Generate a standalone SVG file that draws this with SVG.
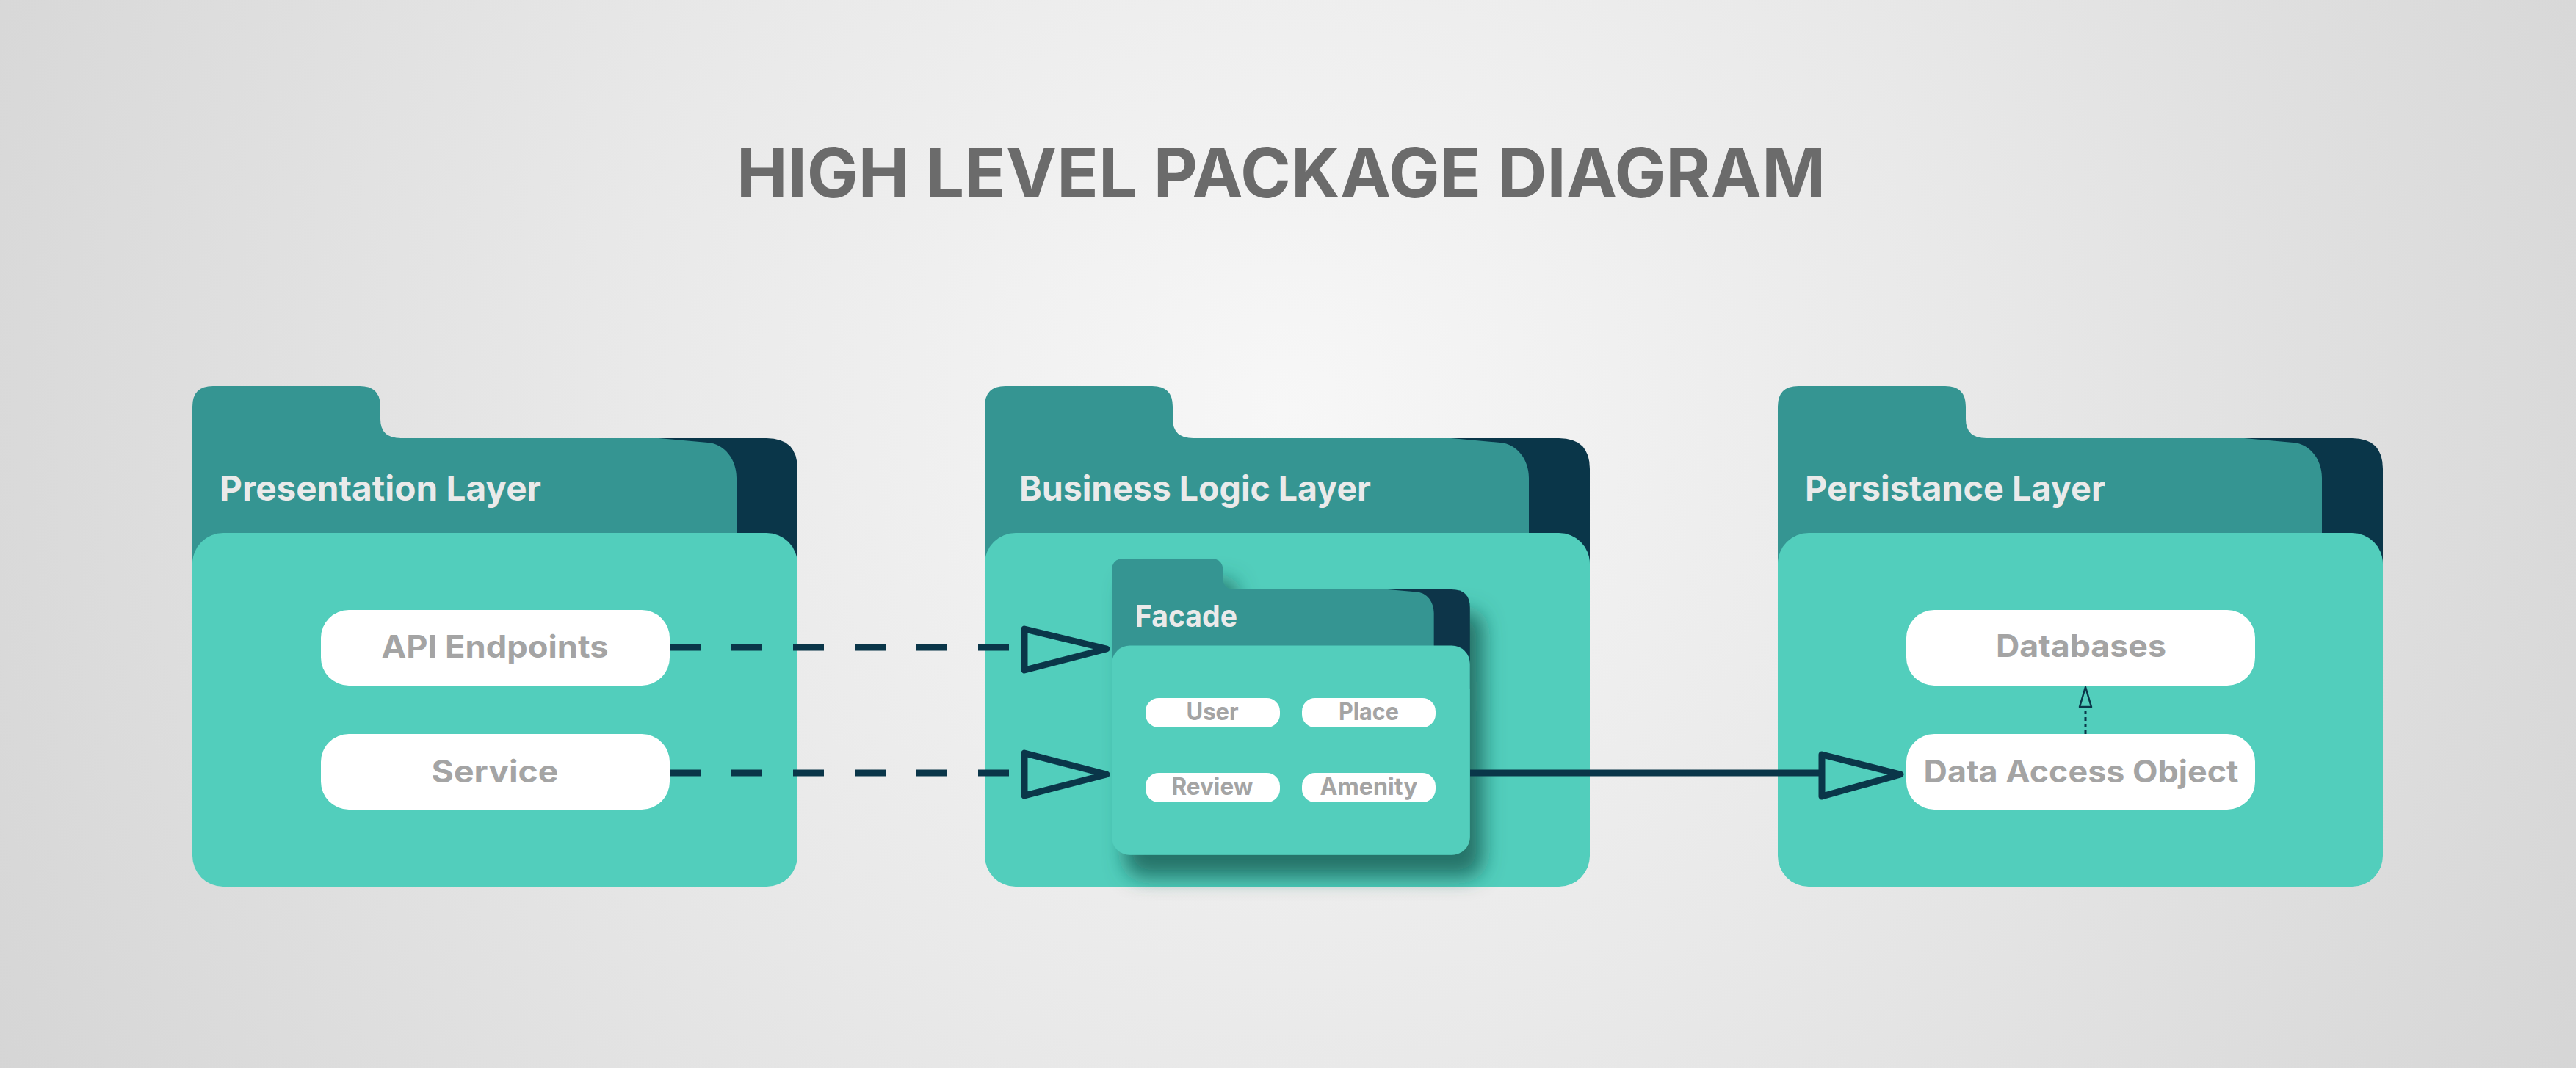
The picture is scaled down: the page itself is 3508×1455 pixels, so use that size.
<svg xmlns="http://www.w3.org/2000/svg" xmlns:xlink="http://www.w3.org/1999/xlink" width="3508" height="1455" viewBox="0 0 3508 1455">
  <defs>
    <radialGradient id="bg" gradientUnits="userSpaceOnUse" cx="1754" cy="560" r="2000">
      <stop offset="0" stop-color="#F7F7F7"/>
      <stop offset="0.45" stop-color="#E9E9E9"/>
      <stop offset="1" stop-color="#D5D5D5"/>
    </radialGradient>
    <filter id="facade-shadow" x="-20%" y="-20%" width="150%" height="160%">
      <feDropShadow dx="18" dy="30" stdDeviation="14" flood-color="#1A5C52" flood-opacity="0.8"/>
    </filter>
    <!-- package folder: tab + back sheet, dark spine, front sheet (824 x 682) -->
    <g id="folder">
      <path class="spine" d="M600,71 L782,71 Q824,71 824,113 L824,300 L600,300 Z"/>
      <path class="back" d="M0,28 Q0,0 28,0 L228,0 Q256,0 256,28 L256,45 Q256,71 284,71 L635,71 L702,77 C725,79 741,100 741,125 L741,300 L0,300 Z"/>
      <rect class="front" x="0" y="200" width="824" height="482" rx="42" ry="42"/>
    </g>
  </defs>
  <style>
    .spine { fill: #0A3649; }
    .back { fill: #359592; }
    .front { fill: #52CEBC; }
    .pill { fill: #FFFFFF; }
    .title { font-family: "Inter", "Liberation Sans", sans-serif; font-weight: 700; fill: #6B6B6B; }
    .layer-label { font-family: "Inter", "Liberation Sans", sans-serif; font-weight: 700; fill: #EAEAEA; font-size: 47px; }
    .item { font-family: "Inter", "Liberation Sans", sans-serif; font-weight: 700; fill: #A4A4A4; text-anchor: middle; }
    .item-lg { font-size: 42px; }
    .item-sm { font-size: 33px; }
    .dep { fill: none; stroke: #0A3649; stroke-width: 9; }
    .head { fill: none; stroke: #0A3649; stroke-width: 9; stroke-linejoin: round; }
  </style>

  <rect width="3508" height="1455" fill="url(#bg)"/>

  <text class="title" x="1003" y="269" font-size="94" textLength="1483" lengthAdjust="spacingAndGlyphs">HIGH LEVEL PACKAGE DIAGRAM</text>

  <!-- Presentation layer -->
  <g id="presentation-layer">
    <use xlink:href="#folder" transform="translate(262,526)"/>
    <text class="layer-label" x="299" y="682" textLength="438" lengthAdjust="spacingAndGlyphs">Presentation Layer</text>
    <g id="api-endpoints">
      <rect class="pill" x="437" y="831" width="475" height="103" rx="38"/>
      <text class="item item-lg" x="674" y="896" textLength="309" lengthAdjust="spacingAndGlyphs">API Endpoints</text>
    </g>
    <g id="service">
      <rect class="pill" x="437" y="1000" width="475" height="103" rx="38"/>
      <text class="item item-lg" x="674" y="1066" textLength="173" lengthAdjust="spacingAndGlyphs">Service</text>
    </g>
  </g>

  <!-- Business logic layer -->
  <g id="business-logic-layer">
    <use xlink:href="#folder" transform="translate(1341,526)"/>
    <text class="layer-label" x="1388" y="682" textLength="479" lengthAdjust="spacingAndGlyphs">Business Logic Layer</text>
  </g>

  <!-- Persistance layer -->
  <g id="persistance-layer">
    <use xlink:href="#folder" transform="translate(2421,526)"/>
    <text class="layer-label" x="2458" y="682" textLength="409" lengthAdjust="spacingAndGlyphs">Persistance Layer</text>
    <g id="databases">
      <rect class="pill" x="2596" y="831" width="475" height="103" rx="38"/>
      <text class="item item-lg" x="2834" y="895" textLength="232" lengthAdjust="spacingAndGlyphs">Databases</text>
    </g>
    <g id="data-access-object">
      <rect class="pill" x="2596" y="1000" width="475" height="103" rx="38"/>
      <text class="item item-lg" x="2834" y="1066" textLength="429" lengthAdjust="spacingAndGlyphs">Data Access Object</text>
    </g>
  </g>

  <!-- Facade package nested in the business logic layer -->
  <g id="facade">
    <g filter="url(#facade-shadow)">
      <use xlink:href="#folder" transform="translate(1514,761) scale(0.592)"/>
    </g>
    <text class="layer-label" x="1546" y="854" style="font-size:41px" textLength="139" lengthAdjust="spacingAndGlyphs">Facade</text>
    <g id="user">
      <rect class="pill" x="1560" y="951" width="183" height="40" rx="18"/>
      <text class="item item-sm" x="1651" y="981" textLength="71" lengthAdjust="spacingAndGlyphs">User</text>
    </g>
    <g id="place">
      <rect class="pill" x="1773" y="951" width="182" height="40" rx="18"/>
      <text class="item item-sm" x="1864" y="981" textLength="82" lengthAdjust="spacingAndGlyphs">Place</text>
    </g>
    <g id="review">
      <rect class="pill" x="1560" y="1053" width="183" height="40" rx="18"/>
      <text class="item item-sm" x="1651" y="1083" textLength="111" lengthAdjust="spacingAndGlyphs">Review</text>
    </g>
    <g id="amenity">
      <rect class="pill" x="1773" y="1053" width="182" height="40" rx="18"/>
      <text class="item item-sm" x="1864" y="1083" textLength="133" lengthAdjust="spacingAndGlyphs">Amenity</text>
    </g>
  </g>

  <!-- Connectors -->
  <g id="connectors">
    <!-- API Endpoints -> Facade -->
    <line class="dep" x1="912" y1="882" x2="1390" y2="882" stroke-dasharray="42 42"/>
    <path class="head" d="M1395,857 L1507,884 L1395,913 Z"/>
    <!-- Service -> Facade -->
    <line class="dep" x1="912" y1="1053" x2="1390" y2="1053" stroke-dasharray="42 42"/>
    <path class="head" d="M1395,1026 L1507,1055 L1395,1084 Z"/>
    <!-- Facade -> Data Access Object -->
    <line class="dep" x1="2002" y1="1053" x2="2481" y2="1053" stroke-width="8"/>
    <path class="head" d="M2481,1028 L2588,1055 L2481,1085 Z"/>
    <!-- Data Access Object -> Databases -->
    <line x1="2840" y1="1000" x2="2840" y2="963" stroke="#0A3649" stroke-width="3" stroke-dasharray="5 4"/>
    <path d="M2840,936 L2848,963 L2832,963 Z" fill="none" stroke="#0A3649" stroke-width="2.5" stroke-linejoin="round"/>
  </g>
</svg>
